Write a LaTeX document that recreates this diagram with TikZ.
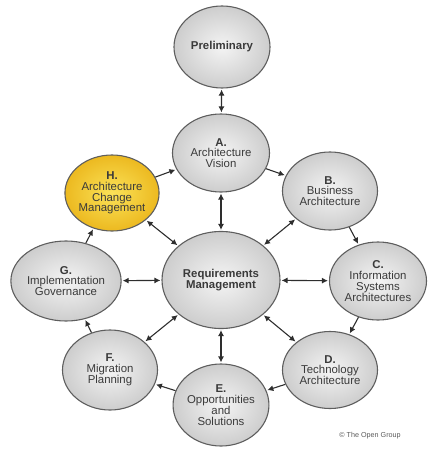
\documentclass[tikz,border=0pt]{standalone}
\usepackage{fontspec}
\setmainfont{Liberation Sans}
\usetikzlibrary{arrows.meta, shapes.geometric}
\definecolor{admink}{HTML}{3A3A3A}
\definecolor{admgray}{HTML}{CDCDCD}
\definecolor{admlight}{HTML}{F4F4F4}
\definecolor{admedge}{HTML}{5E5E5E}
\definecolor{admyellow}{HTML}{ECB920}
\definecolor{admyellowl}{HTML}{FBE258}
\definecolor{arrowgray}{HTML}{2E2E2E}
\definecolor{notegray}{HTML}{5A5A5A}
\tikzset{
  phase/.style={ellipse, draw=admedge, inner color=admlight, outer color=admgray, line width=1.1pt,
    inner sep=0pt, align=center, font=\fontsize{11.4}{10.8}\selectfont, text=admink,
    minimum width=95pt, minimum height=78pt},
  hphase/.style={phase, inner color=admyellowl, outer color=admyellow},
  flow/.style={-{Latex[length=6pt,width=6pt]}, draw=arrowgray, line width=1.1pt, shorten >=1pt},
  dflow/.style={flow, {Latex[length=6pt,width=6pt]}-{Latex[length=6pt,width=6pt]}, shorten <=1pt}
}

\begin{document}
\begin{tikzpicture}[x=1pt, y=-1pt]
\useasboundingbox (0,0) rectangle (432,452);
\node[phase, minimum width=96pt, minimum height=82pt] (prelim) at (222,47) {\textbf{Preliminary}};
\node[phase, minimum width=97pt] (a) at (221,153) {\textbf{A.}\\Architecture\\Vision};
\node[phase] (b) at (330,191) {\textbf{B.}\\Business\\Architecture};
\node[phase, minimum width=97pt] (c) at (378,281) {\textbf{C.}\\Information\\Systems\\Architectures};
\node[phase, minimum height=77pt] (d) at (330,370) {\textbf{D.}\\Technology\\Architecture};
\node[phase, minimum height=82pt] (e) at (221,405) {\textbf{E.}\\Opportunities\\and\\Solutions};
\node[phase, minimum height=80pt] (f) at (110,370) {\textbf{F.}\\Migration\\Planning};
\node[phase, minimum height=80pt] (g) at (66,281) {\textbf{G.}\\Implementation\\Governance};
\node[hphase, minimum width=94pt, minimum height=76pt] (h) at (112,193) {\textbf{H.}\\Architecture\\Change\\Management};
\node[phase, minimum width=118pt, minimum height=97pt] (req) at (221,280) {\textbf{Requirements}\\\textbf{Management}};
\node[text=notegray, font=\fontsize{7.2}{8}\selectfont] (cpr) at (370,436) {© The Open Group};
% cycle
\draw[dflow] (prelim)--(a); \draw[flow] (h)--(a); \draw[flow] (a)--(b); \draw[flow] (b)--(c);
\draw[flow] (c)--(d); \draw[flow] (d)--(e); \draw[flow] (e)--(f); \draw[flow] (f)--(g); \draw[flow] (g)--(h);
% requirements
\draw[dflow] (a)--(req); \draw[dflow] (b)--(req); \draw[dflow] (c)--(req); \draw[dflow] (d)--(req);
\draw[dflow] (e)--(req); \draw[dflow] (f)--(req); \draw[dflow] (g)--(req); \draw[dflow] (h)--(req);
\end{tikzpicture}
\end{document}
